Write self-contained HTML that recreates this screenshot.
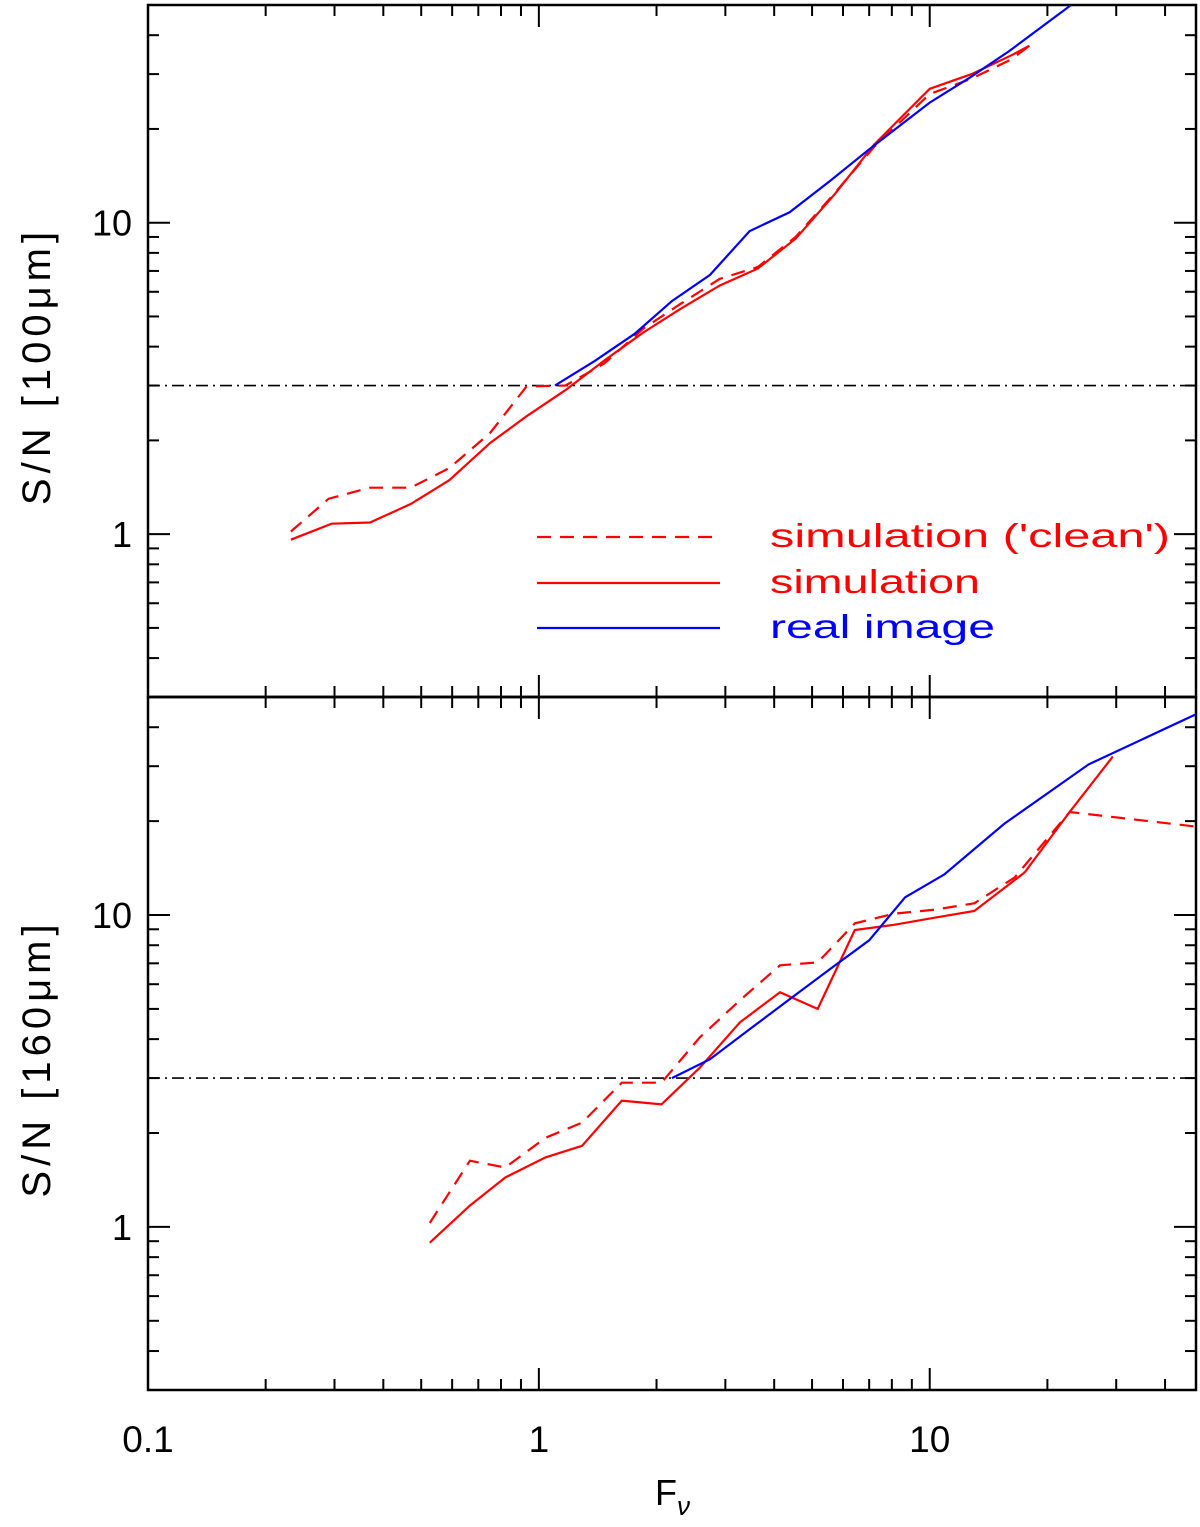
<!DOCTYPE html>
<html><head><meta charset="utf-8"><style>
html,body{margin:0;padding:0;background:#fff;}
svg text{font-family:"Liberation Sans",sans-serif;}
</style></head><body>
<svg id="chart" width="1200" height="1522" viewBox="0 0 1200 1522" xmlns="http://www.w3.org/2000/svg">
<g id="g"></g>
</svg>
<script>
// ---- data ----
const topCleanF = [0.232,0.29,0.37,0.47,0.59,0.75,0.93,1.17,1.47,1.85,2.31,2.9,3.63,4.54,5.7,7.2,10,12.8,16.2,18];
const topCleanSN = [1.02,1.30,1.41,1.41,1.63,2.11,2.98,3.0,3.53,4.57,5.5,6.6,7.2,9.0,12.4,17.5,25.9,29.0,33.5,37];
const topSimF = [0.232,0.295,0.37,0.47,0.59,0.75,0.93,1.17,1.47,1.85,2.31,2.9,3.63,4.54,5.7,7.2,10,12.8,16.2,18];
const topSimSN = [0.96,1.08,1.09,1.25,1.49,1.96,2.39,2.9,3.61,4.44,5.3,6.28,7.12,8.89,12.3,17.8,26.9,30.0,34.5,37];
const topRealF = [1.1,1.39,1.76,2.19,2.74,3.46,4.38,5.55,7.0,10,12.7,16,23];
const topRealSN = [3.0,3.6,4.4,5.6,6.8,9.4,10.8,13.6,17.2,24.3,29.3,35.6,50];
const botCleanF = [0.526,0.666,0.82,1.04,1.29,1.63,2.06,2.58,3.27,4.14,5.17,6.43,8.1,10.3,13.0,16.5,22.8,48];
const botCleanSN = [1.03,1.63,1.55,1.93,2.16,2.9,2.9,4.05,5.33,6.9,7.05,9.4,10.1,10.4,10.9,13.2,21.4,19.2];
const botSimF = [0.526,0.666,0.82,1.04,1.29,1.63,2.06,2.58,3.27,4.14,5.17,6.43,8.1,10.3,13.0,17.5,22.8,29.4];
const botSimSN = [0.89,1.17,1.44,1.67,1.82,2.54,2.47,3.24,4.53,5.65,5.0,8.95,9.3,9.8,10.3,13.7,21.4,32.2];
const botRealF = [2.19,2.74,3.46,4.38,5.55,7.0,8.65,10.9,15.5,25.5,48];
const botRealSN = [3.0,3.45,4.3,5.37,6.7,8.3,11.4,13.5,19.6,30.4,44];
const threshold = 3;
const xTickVals = [0.1,1,10];
const xTickLabels = ["0.1","1","10"];
const yTickVals = [1,10];
const yTickLabels = ["1","10"];

// ---- geometry ----
const X0=148,X1=1196,XMIN=0.1,XMAX=48;
const panels=[{top:5,bot:697,name:'top'},{top:697,bot:1390,name:'bottom'}];
const YMIN=0.3,YMAX=50;
const NS='http://www.w3.org/2000/svg';
const g=document.getElementById('g');
function xs(v){return X0+(Math.log10(v)-Math.log10(XMIN))/(Math.log10(XMAX)-Math.log10(XMIN))*(X1-X0);}
function ys(p,v){return p.bot-(Math.log10(v)-Math.log10(YMIN))/(Math.log10(YMAX)-Math.log10(YMIN))*(p.bot-p.top);}
function el(tag,attrs,parent){const e=document.createElementNS(NS,tag);for(const k in attrs)e.setAttribute(k,attrs[k]);(parent||g).appendChild(e);return e;}
function line(x1,y1,x2,y2,w){return el('line',{x1,y1,x2,y2,stroke:'#000','stroke-width':w||2});}

const clip=el('clipPath',{id:'clipAll'});
el('rect',{x:X0,y:5,width:X1-X0,height:1385},clip);

function series(p,F,S,color,dash,name){
  const pts=F.map((f,i)=>xs(f).toFixed(1)+','+ys(p,S[i]).toFixed(1)).join(' ');
  const pl=el('polyline',{points:pts,fill:'none',stroke:color,'stroke-width':2.2,'clip-path':'url(#clipAll)'});
  if(dash)pl.setAttribute('stroke-dasharray',dash);
  
  
}

panels.forEach((p,pi)=>{
  const fr=el('rect',{x:X0,y:p.top,width:X1-X0,height:p.bot-p.top,fill:'none',stroke:'#000','stroke-width':2.5});
  
  
  for(let d=-1;d<=1;d++){for(let m=1;m<=9;m++){const v=m*Math.pow(10,d);if(v<YMIN||v>YMAX)continue;const y=ys(p,v);const L=m===1?22:11;line(X0,y,X0+L,y);line(X1,y,X1-L,y);}}
  for(let d=-1;d<=1;d++){for(let m=1;m<=9;m++){const v=m*Math.pow(10,d);if(v<XMIN||v>XMAX)continue;const x=xs(v);const L=m===1?22:11;line(x,p.bot,x,p.bot-L);line(x,p.top,x,p.top+L);}}
  yTickVals.forEach((v,i)=>{const t=el('text',{x:X0-16,y:ys(p,v)+13,'font-size':36,'text-anchor':'end'});t.textContent=yTickLabels[i];});
  const yc=(p.top+p.bot)/2+15;
  const yt=el('text',{x:0,y:0,'font-size':40,'letter-spacing':5,'text-anchor':'middle',transform:`translate(50,${yc}) rotate(-90)`});
  yt.textContent='S/N [' + (pi===0?'100':'160') + 'μm]';
  
  
  const th=el('line',{x1:X0,x2:X1,y1:ys(p,threshold),y2:ys(p,threshold),stroke:'#000','stroke-width':1.6,'stroke-dasharray':'12,5,2,5'});
  
  
});
line(X0,697,X1,697,2.5);

series(panels[0],topCleanF,topCleanSN,'#f00','14,9','top-simulation-clean');
series(panels[0],topSimF,topSimSN,'#f00',null,'top-simulation');
series(panels[0],topRealF,topRealSN,'#00f',null,'top-real-image');
series(panels[1],botCleanF,botCleanSN,'#f00','14,9','bottom-simulation-clean');
series(panels[1],botSimF,botSimSN,'#f00',null,'bottom-simulation');
series(panels[1],botRealF,botRealSN,'#00f',null,'bottom-real-image');

xTickVals.forEach((v,i)=>{const t=el('text',{x:xs(v),y:1452,'font-size':37,'text-anchor':'middle'});t.textContent=xTickLabels[i];});
const xt=el('text',{x:655,y:1505,'font-size':36});
xt.innerHTML='F<tspan font-size="26" dy="10" font-style="italic">ν</tspan>';



const legItems=[['simulation (\'clean\')','#f00','14,9',537,400],['simulation','#f00',null,583,210],['real image','#00f',null,628,225]];
legItems.forEach(([lab,c,dash,y,w])=>{
  const l=el('line',{x1:537,x2:720,y1:y,y2:y,stroke:c,'stroke-width':2.2});
  if(dash)l.setAttribute('stroke-dasharray',dash);
  
  
  const t=el('text',{x:770,y:y+10,'font-size':33,fill:c,textLength:w,lengthAdjust:'spacingAndGlyphs'});
  t.textContent=lab;
  
  
});
</script>
</body></html>
